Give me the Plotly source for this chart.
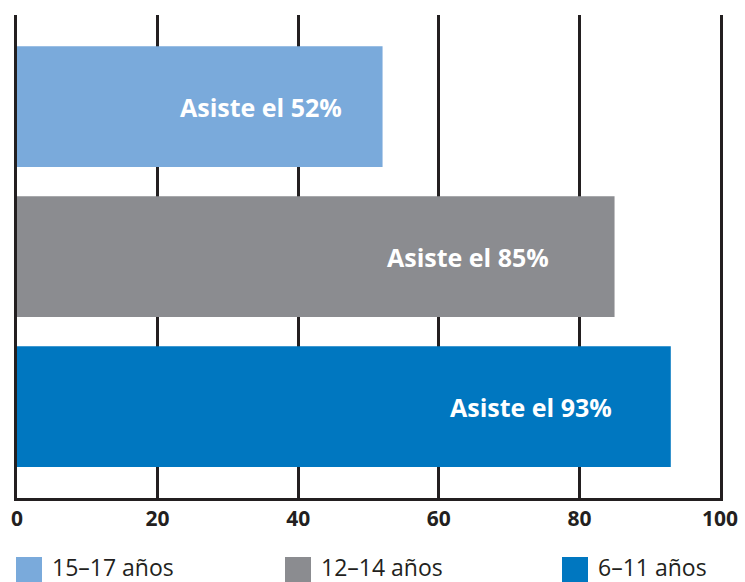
import plotly.graph_objects as go

# ---- data ----
categories = ["6–11 años", "12–14 años", "15–17 años"]
values = [93, 85, 52]
bar_labels = ["Asiste el 93%", "Asiste el 85%", "Asiste el 52%"]
bar_colors = ["#0077c0", "#8b8c90", "#7aaadb"]
tick_vals = [0, 20, 40, 60, 80, 100]
tick_text = ["0", "20", "40", "60", "80", "100"]
legend_order = ["15–17 años", "12–14 años", "6–11 años"]
legend_colors = ["#7aaadb", "#8b8c90", "#0077c0"]

# ---- style ----
W, H = 745, 582
ML, MR, MT, MB = 17, 25, 15, 84
INK = "#231f20"
FONT = "Open Sans"
label_inset = [8.1, 9.0, 5.5]  # how far inside bar end the label ends (data units)

PW = W - ML - MR
PH = H - MT - MB


def px_x(px):
    return (px - ML) / PW


def px_y(py):
    return (H - MB - py) / PH


fig = go.Figure()
fig.add_trace(go.Bar(
    y=categories, x=values, orientation="h",
    marker=dict(color=bar_colors, line=dict(width=0)),
    width=0.805, showlegend=False, hoverinfo="skip",
))

annotations = []
for cat, v, lab, ins in zip(categories, values, bar_labels, label_inset):
    annotations.append(dict(
        x=v - ins, y=cat, xref="x", yref="y", text=lab, showarrow=False,
        xanchor="right", yanchor="middle",
        font=dict(family=FONT, size=25, color="white", weight="bold"),
    ))

# manual legend (large square swatches)
legend_sq_x = [16, 285, 562]
for name, col, sx in zip(legend_order, legend_colors, legend_sq_x):
    fig.add_shape(type="rect", xref="paper", yref="paper",
                  x0=px_x(sx), x1=px_x(sx + 26), y0=px_y(582), y1=px_y(557),
                  fillcolor=col, line=dict(width=0), layer="above")
    annotations.append(dict(
        x=px_x(sx + 34), y=px_y(567), xref="paper", yref="paper", text=name,
        showarrow=False, xanchor="left", yanchor="middle",
        font=dict(family=FONT, size=23, color=INK),
    ))

fig.update_layout(
    width=W, height=H,
    margin=dict(l=ML, r=MR, t=MT, b=MB, pad=0, autoexpand=False),
    paper_bgcolor="white", plot_bgcolor="white",
    bargap=0.195,
    annotations=annotations,
    xaxis=dict(
        range=[0, 100], tickvals=tick_vals, ticktext=tick_text,
        showgrid=True, gridcolor=INK, gridwidth=2.6,
        showline=True, linecolor=INK, linewidth=2.6,
        zeroline=False, ticks="", ticklabelstandoff=0,
        tickfont=dict(family=FONT, size=21, color=INK, weight="bold"),
        fixedrange=True, automargin=False,
    ),
    yaxis=dict(
        range=[-0.61, 2.61], showticklabels=False, showgrid=False,
        showline=True, linecolor=INK, linewidth=2.6, mirror=True,
        zeroline=False, ticks="", fixedrange=True, automargin=False,
    ),
    showlegend=False,
)

fig.write_html("out.html")
